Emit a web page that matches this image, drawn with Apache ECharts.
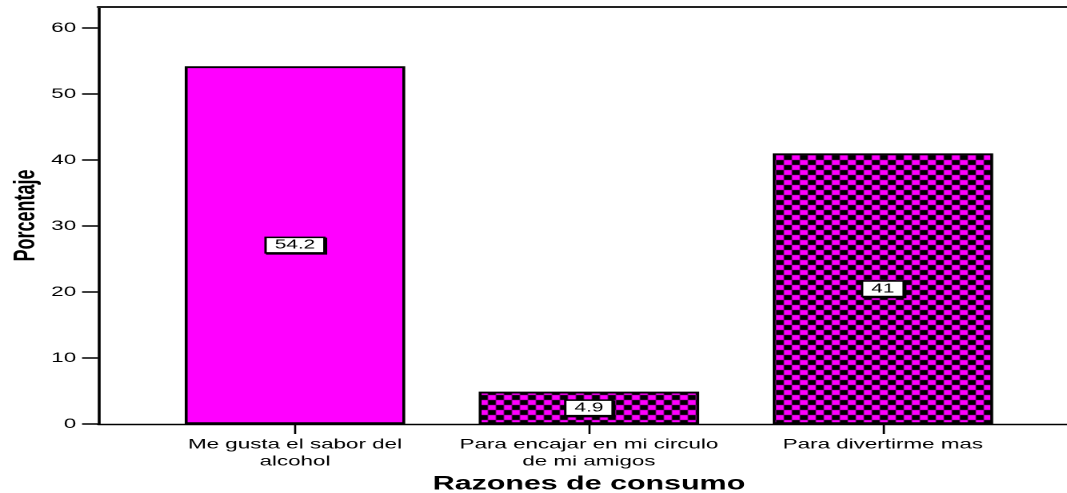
<!DOCTYPE html>
<html>
<head>
<meta charset="utf-8">
<script src="https://cdn.jsdelivr.net/npm/echarts@6/dist/echarts.min.js"></script>
<style>
html,body{margin:0;padding:0;background:#fff;overflow:hidden;width:1067px;height:493px;}
#wrap{width:667px;height:493px;transform:scaleX(1.5997);transform-origin:0 0;}
#chart{width:667px;height:493px;}
</style>
</head>
<body>
<div id="wrap"><div id="chart"></div></div>
<script>
const categories = ['Me gusta el sabor del\nalcohol', 'Para encajar en mi circulo\nde mi amigos', 'Para divertirme mas'];
const values = [54.2, 4.9, 41];
const patterned = [false, true, true];
const yMin = 0, yMax = 60, yStep = 10;
const yTitle = 'Porcentaje';
const xTitle = 'Razones de consumo';

const FONT = '"Liberation Sans", Arial, Helvetica, sans-serif';

// checkerboard pattern
const pc = document.createElement('canvas');
pc.width = 10; pc.height = 10;
const g = pc.getContext('2d');
g.fillStyle = '#FF00FF'; g.fillRect(0, 0, 10, 10);
g.fillStyle = '#000000'; g.fillRect(5, 0, 5, 5); g.fillRect(0, 5, 5, 5);

const chart = echarts.init(document.getElementById('chart'), null, {renderer: 'canvas', devicePixelRatio: 2});

const L = 61.3, TOP_FRAME = 7, TOP_PLOT = 28, BOTTOM = 69;

chart.setOption({
  animation: false,
  backgroundColor: '#fff',
  grid: [
    {left: L, right: -30, top: TOP_FRAME, bottom: BOTTOM, containLabel: false, outerBoundsMode: 'none'},
    {left: L, right: -30, top: TOP_PLOT, bottom: BOTTOM, containLabel: false, outerBoundsMode: 'none'},
    {left: 92.5, right: 23.2, top: TOP_PLOT, bottom: BOTTOM, containLabel: false, outerBoundsMode: 'none'}
  ],
  xAxis: [
    {gridIndex: 0, type: 'value', position: 'top', min: 0, max: 1,
      axisLine: {show: true, onZero: false, lineStyle: {color: '#222', width: 2}},
      axisTick: {show: false}, axisLabel: {show: false}, splitLine: {show: false}},
    {gridIndex: 0, type: 'value', position: 'bottom', min: 0, max: 1,
      axisLine: {show: true, onZero: false, lineStyle: {color: '#000', width: 1.4}},
      axisTick: {show: false}, axisLabel: {show: false}, splitLine: {show: false}},
    {gridIndex: 1, type: 'value', min: 0, max: 1, show: false},
    {gridIndex: 2, type: 'category', data: categories,
      axisLine: {show: false},
      axisTick: {show: true, alignWithLabel: true, length: 10, lineStyle: {color: '#000', width: 1.3}},
      axisLabel: {color: '#000', fontSize: 14, fontFamily: FONT, lineHeight: 17, margin: 12, interval: 0},
      name: xTitle, nameLocation: 'middle', nameGap: 45,
      nameTextStyle: {color: '#000', fontSize: 19, fontWeight: 'bold', fontFamily: FONT},
      splitLine: {show: false}}
  ],
  yAxis: [
    {gridIndex: 0, type: 'value', min: 0, max: 1,
      axisLine: {show: true, onZero: false, lineStyle: {color: '#000', width: 1.8}},
      axisTick: {show: false}, axisLabel: {show: false}, splitLine: {show: false},
      name: yTitle, nameLocation: 'middle', nameGap: 36,
      nameTextStyle: {color: '#000', fontSize: 18, fontWeight: 'bold', fontFamily: FONT}},
    {gridIndex: 1, type: 'value', min: yMin, max: yMax, interval: yStep,
      axisLine: {show: false},
      axisTick: {show: true, length: 10, lineStyle: {color: '#000', width: 1.5}},
      axisLabel: {color: '#000', fontSize: 14, fontFamily: FONT, margin: 13.7},
      splitLine: {show: false}},
    {gridIndex: 2, type: 'value', min: yMin, max: yMax, interval: yStep, show: false}
  ],
  series: [{
    type: 'bar',
    xAxisIndex: 3,
    yAxisIndex: 2,
    barCategoryGap: '25%',
    data: values.map((v, i) => ({
      value: v,
      itemStyle: {
        color: patterned[i] ? {image: pc, repeat: 'repeat'} : '#FF00FF',
        borderColor: '#000',
        borderWidth: 1.8
      }
    })),
    label: {
      show: true,
      position: 'inside',
      formatter: '{c}',
      color: '#000',
      fontSize: 13,
      fontFamily: FONT,
      backgroundColor: '#fff',
      borderColor: '#000',
      borderWidth: 1.5,
      padding: [1, 5, 0, 5],
      shadowColor: '#000',
      shadowOffsetX: 1,
      shadowOffsetY: 1,
      shadowBlur: 0
    }
  }]
});
</script>
</body>
</html>
